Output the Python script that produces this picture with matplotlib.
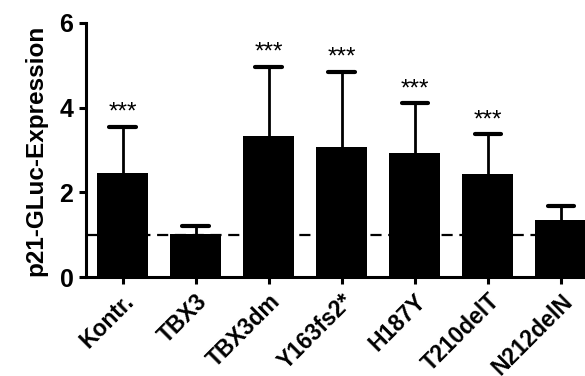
import matplotlib
matplotlib.use("Agg")
import matplotlib.pyplot as plt
import numpy as np

categories = ["Kontr.", "TBX3", "TBX3dm", "Y163fs2*", "H187Y", "T210delT", "N212delN"]
means = [2.45, 1.01, 3.32, 3.07, 2.92, 2.43, 1.35]
upper_err = [1.10, 0.19, 1.65, 1.78, 1.19, 0.95, 0.33]
signif = ["***", "", "***", "***", "***", "***", ""]
yticks = [0, 2, 4, 6]
ref_level = 1.0

plt.rcParams['font.family'] = ['Liberation Sans', 'DejaVu Sans']

fig = plt.figure(figsize=(5.85, 3.76), dpi=100)
ax = fig.add_axes([0.147, 0.263, 0.874, 0.676])

x = np.arange(len(categories))
means_a = np.array(means)
tops = means_a + np.array(upper_err)
ax.bar(x, means, width=0.7, color='black', zorder=2)
ax.vlines(x, means_a, tops, color='black', lw=2.0, zorder=1)
ax.hlines(tops, x - 0.18, x + 0.18, color='black', lw=3.0, zorder=1,
          capstyle='round')
ax.axhline(ref_level, color='black', lw=1.6, ls=(0, (5, 3)), zorder=3)

for xi, t, s in zip(x, tops, signif):
    if s:
        ax.annotate(s, (xi, t), xytext=(0, 2), textcoords='offset points',
                    ha='center', va='bottom', fontsize=17.5)

ax.set_xlim(-0.5, 6.5)
ax.set_ylim(0, 6)
ax.set_yticks(yticks)
ax.set_xticks(x)
ax.set_xticklabels(categories, rotation=45, ha='right', rotation_mode='anchor',
                   fontsize=16.5, fontweight='bold')
for lab in ax.get_yticklabels():
    lab.set_fontsize(18)
    lab.set_fontweight('bold')
ax.set_ylabel("p21-GLuc-Expression", fontsize=17.5, fontweight='bold', labelpad=9)

for side in ['top', 'right']:
    ax.spines[side].set_visible(False)
for side in ['left', 'bottom']:
    ax.spines[side].set_linewidth(2.2)
ax.tick_params(axis='both', width=2.2, length=5, direction='out')
ax.tick_params(axis='y', pad=4)
ax.tick_params(axis='x', pad=4)

fig.savefig("out.png", dpi=100)
